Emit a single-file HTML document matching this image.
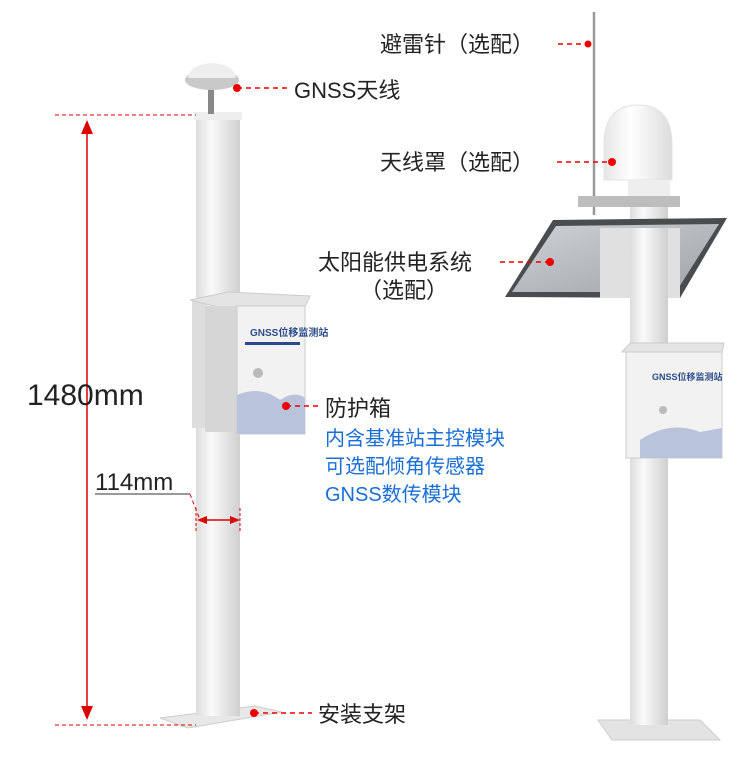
<!DOCTYPE html>
<html><head><meta charset="utf-8"><style>
body{margin:0;background:#fff;width:752px;height:769px;overflow:hidden}
svg{display:block}
text{font-family:"Liberation Sans","Noto Sans CJK SC",sans-serif}
</style></head><body>
<svg width="752" height="769" viewBox="0 0 752 769">
<defs>
<linearGradient id="pole" x1="0" x2="1"><stop offset="0" stop-color="#dcdcdc"/><stop offset=".35" stop-color="#fafafa"/><stop offset="1" stop-color="#cfcfcf"/></linearGradient>
<linearGradient id="dome" x1="0" x2="1"><stop offset="0" stop-color="#e6e6e6"/><stop offset=".4" stop-color="#fff"/><stop offset="1" stop-color="#dcdcdc"/></linearGradient>
<linearGradient id="panel" x1="0" y1="0" x2="1" y2="1"><stop offset="0" stop-color="#cfd2d6"/><stop offset="1" stop-color="#9ea3a8"/></linearGradient>
</defs>
<!-- LEFT -->
<polygon points="160,718 255,706 282,712 188,728" fill="#e8e8e8" stroke="#ccc"/>
<rect x="196" y="116" width="44" height="600" fill="url(#pole)"/>
<rect x="194" y="112" width="48" height="8" fill="#eee"/>
<rect x="208" y="86" width="6" height="28" fill="#888"/>
<ellipse cx="212" cy="80" rx="27" ry="10" fill="#c9c9c9"/><path d="M188 78 Q190 64 212 63 Q234 64 236 78Z" fill="#eee"/>
<rect x="192" y="300" width="14" height="128" fill="#ddd"/>
<polygon points="190,300 228,292 310,296 305,307 218,307" fill="#e4e4e4" stroke="#ccc"/>
<rect x="205" y="306" width="34" height="126" fill="#d6d6d6"/>
<rect x="237" y="306" width="68" height="128" fill="#f2f2f2" stroke="#ccc"/>
<text x="250" y="336" font-size="10" fill="#2a4a8a" font-weight="bold">GNSS位移监测站</text>
<rect x="245" y="342" width="55" height="3" fill="#2a4a8a"/>
<circle cx="258" cy="373" r="5" fill="#bbb"/>
<path d="M237 395 Q260 385 280 400 Q295 390 305 398 L305 434 L237 434Z" fill="#b9c3dc"/>
<g stroke="#d00" stroke-width="1" stroke-dasharray="4 3" fill="none">
<line x1="55" y1="115" x2="196" y2="115"/><line x1="55" y1="725" x2="196" y2="725"/>
<line x1="190" y1="494" x2="200" y2="520"/>
</g>
<line x1="87" y1="128" x2="87" y2="712" stroke="#d00" stroke-width="1.5"/>
<polygon points="87,120 81,134 93,134" fill="#d00"/><polygon points="87,720 81,706 93,706" fill="#d00"/>
<line x1="203" y1="520" x2="234" y2="520" stroke="#d00" stroke-width="1.5"/>
<polygon points="197,520 207,516 207,524" fill="#d00"/><polygon points="240,520 230,516 230,524" fill="#d00"/>
<line x1="196" y1="508" x2="196" y2="532" stroke="#d00" stroke-dasharray="3 2"/><line x1="240" y1="508" x2="240" y2="532" stroke="#d00" stroke-dasharray="3 2"/>
<line x1="95" y1="494" x2="190" y2="494" stroke="#333"/>
<text x="27" y="405" font-size="30" fill="#222">1480mm</text>
<text x="95" y="490" font-size="24" fill="#222">114mm</text>
<!-- RIGHT -->
<polygon points="598,720 700,720 720,740 612,740" fill="#e3e3e3" stroke="#ccc"/>
<rect x="630" y="180" width="38" height="545" fill="url(#pole)"/>
<line x1="594" y1="12" x2="594" y2="215" stroke="#999" stroke-width="2.5"/>
<polygon points="505,297 553,220 727,218 680,298" fill="#4a4d50"/>
<polygon points="512,292 556,226 719,224 676,292" fill="url(#panel)"/>
<rect x="600" y="228" width="80" height="70" fill="#e0e0e0"/>
<rect x="630" y="228" width="38" height="70" fill="url(#pole)"/>
<rect x="578" y="196" width="102" height="11" fill="#bdbdbd"/>
<path d="M604 180 L604 145 Q604 105 638 105 Q672 105 672 145 L672 180Z" fill="url(#dome)" stroke="#e3e3e3"/>
<rect x="628" y="180" width="42" height="16" fill="#eee"/>
<polygon points="622,352 630,343 724,343 722,352" fill="#e4e4e4" stroke="#ccc"/>
<rect x="626" y="352" width="96" height="106" fill="#f2f2f2" stroke="#ccc"/>
<text x="652" y="380" font-size="9" fill="#2a4a8a" font-weight="bold">GNSS位移监测站</text>
<circle cx="663" cy="410" r="4" fill="#bbb"/>
<path d="M640 440 Q670 420 700 432 L722 428 L722 458 L640 458Z" fill="#b9c3dc"/>
<!-- labels -->
<g stroke="#e00" stroke-width="1.5" stroke-dasharray="5 4" fill="none">
<line x1="237" y1="88" x2="290" y2="88"/><line x1="286" y1="406" x2="320" y2="406"/>
<line x1="254" y1="713" x2="312" y2="713"/><line x1="558" y1="44" x2="588" y2="44"/>
<line x1="557" y1="162" x2="612" y2="162"/><line x1="500" y1="262" x2="550" y2="262"/>
</g>
<g fill="#e00"><circle cx="237" cy="88" r="4"/><circle cx="286" cy="406" r="4"/><circle cx="254" cy="713" r="4"/><circle cx="588" cy="44" r="3.5"/><circle cx="612" cy="162" r="4"/><circle cx="550" cy="262" r="4"/></g>
<g font-size="22" fill="#222">
<text x="294" y="98">GNSS天线</text><text x="325" y="416">防护箱</text><text x="318" y="722">安装支架</text>
<text x="380" y="52">避雷针（选配）</text><text x="380" y="170">天线罩（选配）</text>
<text x="318" y="270">太阳能供电系统</text><text x="360" y="298">（选配）</text>
</g>
<g font-size="20" fill="#1a6fd6"><text x="325" y="445">内含基准站主控模块</text><text x="325" y="473">可选配倾角传感器</text><text x="325" y="501">GNSS数传模块</text></g>
</svg>
</body></html>
